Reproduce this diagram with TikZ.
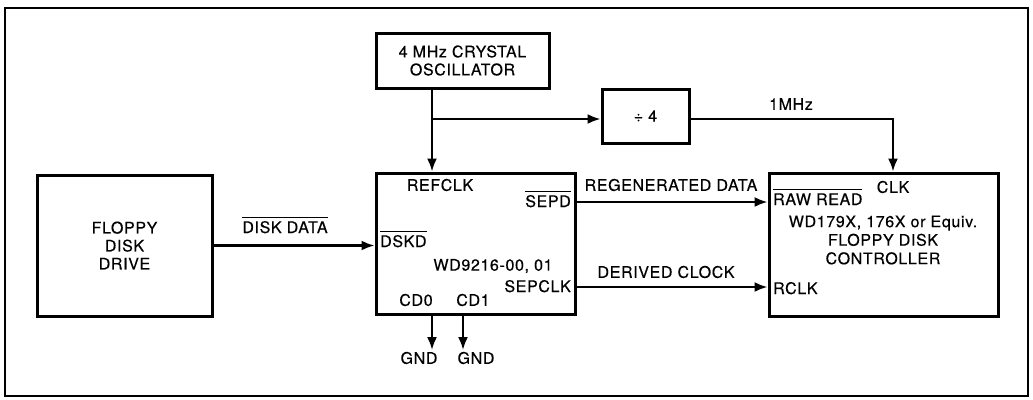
\documentclass[tikz,border=0pt]{standalone}
\usepackage{fontspec}
\setmainfont{TeX Gyre Heros}[LetterSpace=4,FakeBold=0.4]
\usetikzlibrary{arrows.meta}
\tikzset{
  blk/.style={draw, line width=3pt, inner sep=0pt, align=center, font=\fontsize{16}{18}\selectfont},
  sig/.style={line width=2.2pt, -{Latex[length=13pt,width=10pt]}},
  pin/.style={inner sep=0pt, font=\fontsize{16}{18}\selectfont},
}
\newcommand{\ovl}[1]{$\overline{\mbox{\rule{0pt}{14.5pt}#1}}$}

\begin{document}
\begin{tikzpicture}[x=1pt,y=-1pt]
\useasboundingbox (0,0) rectangle (1033,399);
\draw[line width=2pt] (5,8) rectangle (1028,396);

% blocks
\node[blk, minimum width=175pt, minimum height=141pt] (drive) at (124.5,245.5) {FLOPPY\\DISK\\DRIVE};
\node[blk, minimum width=173pt, minimum height=55pt] (osc) at (462.5,60.5) {4 MHz CRYSTAL\\OSCILLATOR};
\node[blk, minimum width=199pt, minimum height=141pt] (sep) at (475.5,243.5) {};
\node[blk, minimum width=87pt, minimum height=54pt] (div) at (645.5,116) {÷ 4};
\node[blk, minimum width=229pt, minimum height=143pt] (fdc) at (883.5,244.5) {};

% pins of the data separator
\node[pin] (refclk) at (440,185) {REFCLK};
\node[pin, anchor=base east] (sepd) at (571,207) {\ovl{SEPD}};
\node[pin, anchor=base west] (dskd) at (380,247) {\ovl{DSKD}};
\node[pin] (sepname) at (493,266) {WD9216-00, 01};
\node[pin, anchor=base east] (sepclk) at (571,292) {SEPCLK};
\node[pin] (cd0) at (416,300) {CD0};
\node[pin] (cd1) at (473,300) {CD1};
\node[pin] (gnd0) at (419,358) {GND};
\node[pin] (gnd1) at (476,358) {GND};

% pins of the controller
\node[pin, anchor=base west] (rawrd) at (773,205) {\ovl{RAW READ}};
\node[pin] (clk) at (893,187) {CLK};
\node[pin, align=center, font=\fontsize{16}{18.5}\selectfont] (fdcname) at (883,240) {WD179X, 176X or Equiv.\\FLOPPY DISK\\CONTROLLER};
\node[pin, anchor=base west] (rclk) at (773,294) {RCLK};

% signal names
\node[pin, anchor=base] (diskdata) at (285,233) {\ovl{DISK DATA}};
\node[pin] (regen) at (671,185) {REGENERATED DATA};
\node[pin] (derived) at (666,272) {DERIVED CLOCK};
\node[pin] (onemhz) at (791,104) {1MHz};

% connections
\coordinate (tap) at (432,119);
\coordinate (clkin) at (893,119);
\coordinate (dpin) at (573,202);
\coordinate (cpin) at (573,287);
\coordinate (g0) at (432,350);
\coordinate (g1) at (463,350);
\draw[sig] (osc.south -| tap) -- (sep.north -| tap);
\draw[sig] (tap) -- (div.west |- tap);
\draw[sig] (div.east |- clkin) -- (clkin) -- (fdc.north -| clkin);
\draw[sig] (drive.east) -- (sep.west |- drive.east);
\draw[sig] (sep.east |- dpin) -- (fdc.west |- dpin);
\draw[sig] (sep.east |- cpin) -- (fdc.west |- cpin);
\draw[sig] (sep.south -| g0) -- (g0);
\draw[sig] (sep.south -| g1) -- (g1);
\end{tikzpicture}
\end{document}
